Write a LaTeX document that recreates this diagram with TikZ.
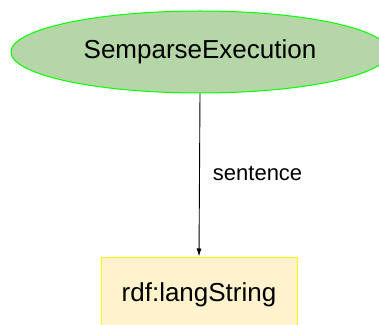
\documentclass[tikz,border=0pt]{standalone}
\usepackage{fontspec}
\setmainfont{Liberation Sans}
\usetikzlibrary{shapes.geometric,arrows.meta}
\definecolor{classfill}{HTML}{B5D6A7}
\definecolor{classline}{HTML}{00FF00}
\definecolor{litfill}{HTML}{FFF2CC}
\definecolor{litline}{HTML}{FFFF00}

\begin{document}
\begin{tikzpicture}[x=1pt,y=1pt,
	classnode/.style={ellipse, draw=classline, fill=classfill, line width=1pt, minimum width=378pt, minimum height=82pt, inner sep=0pt, font=\fontsize{26}{30}\selectfont},
	litnode/.style={rectangle, draw=litline, fill=litfill, line width=1pt, minimum width=196pt, minimum height=76pt, inner sep=0pt, font=\fontsize{26}{30}\selectfont},
	edgelabel/.style={font=\fontsize{22}{26}\selectfont, inner sep=0pt}]
	\useasboundingbox (0,0) rectangle (379,324);
	\node[classnode] (exec) at (200,272) {SemparseExecution};
	\node[litnode] (lang) at (199,29) {rdf:langString};
	% property edge
	\draw[line width=0.9pt, -{Latex[length=8pt,width=5pt]}] (exec.south) -- (lang.north) node[midway, right, xshift=13pt, yshift=2pt, edgelabel, anchor=west]{sentence};
\end{tikzpicture}
\end{document}
